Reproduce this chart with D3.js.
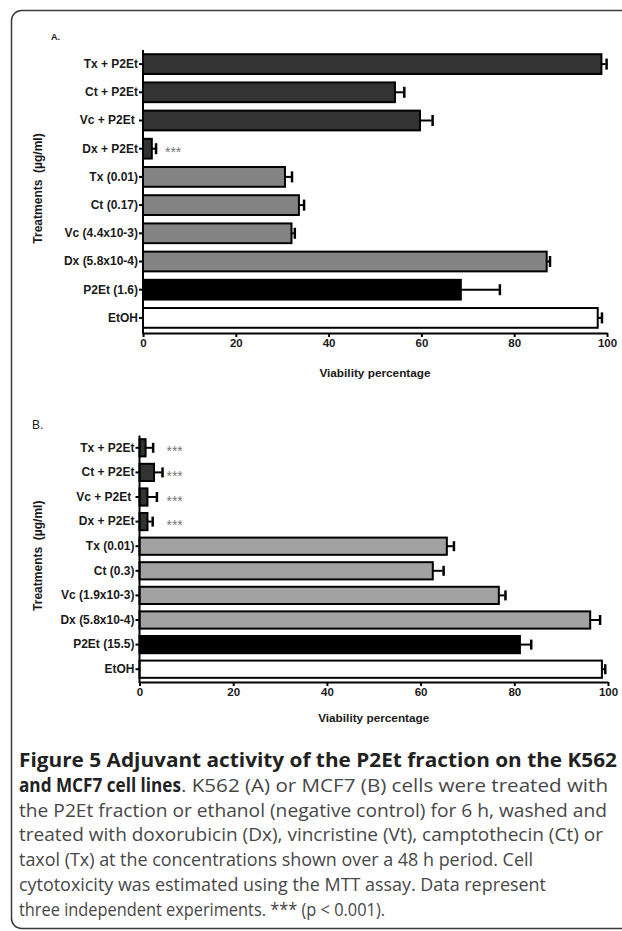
<!DOCTYPE html>
<html>
<head>
<meta charset="utf-8">
<script src="https://cdn.jsdelivr.net/npm/d3@7"></script>
<style>
  body { margin: 0; background: #fff; overflow: hidden; }
  svg { display: block; }
  text { white-space: pre; }
</style>
</head>
<body>
<svg id="fig" width="622" height="931"></svg>
<script>
// Panel A: K562
var categoriesA = ['Tx + P2Et', 'Ct + P2Et', 'Vc + P2Et ', 'Dx + P2Et', 'Tx (0.01)', 'Ct (0.17)',
  'Vc (4.4x10-3)', 'Dx (5.8x10-4)', 'P2Et (1.6)', 'EtOH'];
var viabilityA = [98.8, 54.3, 59.7, 1.9, 30.6, 33.6, 32.0, 87.0, 68.5, 98.0];
var errorA = [0.9, 1.8, 2.5, 0.7, 1.3, 0.9, 0.5, 0.5, 8.2, 0.7];
var signifA = ['', '', '', '***', '', '', '', '', '', ''];

// Panel B: MCF7
var categoriesB = ['Tx + P2Et', 'Ct + P2Et', 'Vc + P2Et ', 'Dx + P2Et', 'Tx (0.01)', 'Ct (0.3)',
  'Vc (1.9x10-3)', 'Dx (5.8x10-4)', 'P2Et (15.5)', 'EtOH'];
var viabilityB = [1.3, 3.1, 1.7, 1.7, 65.6, 62.6, 76.7, 96.2, 81.2, 98.7];
var errorB = [1.4, 1.6, 1.8, 0.9, 1.3, 2.1, 1.2, 1.9, 2.2, 0.5];
var signifB = ['***', '***', '***', '***', '', '', '', '', '', ''];

// treatment kind per row (same order in both panels)
var kinds = ['combo', 'combo', 'combo', 'combo', 'drug', 'drug', 'drug', 'drug', 'extract', 'vehicle'];
var xTicks = [0, 20, 40, 60, 80, 100];

var captionLines = [
  [{b: true, t: 'Figure 5 Adjuvant activity of the P2Et fraction on the K562'}],
  [{b: true, t: 'and MCF7 cell lines'}, {b: false, t: '. K562 (A) or MCF7 (B) cells were treated with'}],
  [{b: false, t: 'the P2Et fraction or ethanol (negative control) for 6 h, washed and'}],
  [{b: false, t: 'treated with doxorubicin (Dx), vincristine (Vt), camptothecin (Ct) or'}],
  [{b: false, t: 'taxol (Tx) at the concentrations shown over a 48 h period. Cell'}],
  [{b: false, t: 'cytotoxicity was estimated using the MTT assay. Data represent'}],
  [{b: false, t: 'three independent experiments. *** (p < 0.001).'}]
];
// right end of every caption piece, as set in the page
var captionEnds = [[617], [181, 608], [607], [603], [533], [546], [385]];

var svg = d3.select('#fig');
var FONT = '"Liberation Sans", Arial, sans-serif';

// frame round the figure, open past the right edge
var fr = d3.path();
fr.moveTo(700, 10.5);
fr.lineTo(21.5, 10.5);
fr.arcTo(11.5, 10.5, 11.5, 20.5, 10);
fr.lineTo(11.5, 918.5);
fr.arcTo(11.5, 928.5, 21.5, 928.5, 10);
fr.lineTo(700, 928.5);
svg.append('path')
  .attr('d', fr.toString())
  .attr('fill', 'none')
  .attr('stroke', '#3a3a3a')
  .attr('stroke-width', 1.5);

function drawPanel(cfg) {
  var x = d3.scaleLinear().domain([0, 100]).range([cfg.left, cfg.right]);
  var y = d3.scaleBand().domain(cfg.categories).range([cfg.top, cfg.bottom]).paddingInner(0.3).paddingOuter(0.15);
  var fills = {combo: '#333333', drug: cfg.gray, extract: '#000000', vehicle: '#ffffff'};
  var rows = cfg.categories.map(function(c, i) {
    return {name: c, v: cfg.values[i], e: cfg.errors[i], s: cfg.signif[i], kind: kinds[i]};});
  function mid(d) {return y(d.name) + y.bandwidth() / 2;}

  var g = svg.append('g');

  // bars
  g.selectAll('.bar').data(rows).enter().append('rect')
    .attr('class', 'bar')
    .attr('x', x(0))
    .attr('y', function(d) {return y(d.name);})
    .attr('width', function(d) {return x(d.v) - x(0);})
    .attr('height', y.bandwidth())
    .attr('fill', function(d) {return fills[d.kind];})
    .attr('stroke', '#000')
    .attr('stroke-width', 2);

  // error bars (upper side only)
  var eb = g.selectAll('.err').data(rows).enter().append('g').attr('class', 'err');
  eb.append('line')
    .attr('x1', function(d) {return x(d.v);})
    .attr('x2', function(d) {return x(d.v + d.e);})
    .attr('y1', mid).attr('y2', mid)
    .attr('stroke', '#000').attr('stroke-width', 2);
  eb.append('line')
    .attr('x1', function(d) {return x(d.v + d.e) + 1;})
    .attr('x2', function(d) {return x(d.v + d.e) + 1;})
    .attr('y1', function(d) {return mid(d) - cfg.cap;})
    .attr('y2', function(d) {return mid(d) + cfg.cap;})
    .attr('stroke', '#000').attr('stroke-width', 2.5);

  // significance marks
  g.selectAll('.sig').data(rows.filter(function(d) {return d.s;})).enter().append('text')
    .attr('class', 'sig')
    .attr('x', x(cfg.starAt))
    .attr('y', function(d) {return mid(d) + 8.5;})
    .attr('text-anchor', 'middle')
    .style('font-family', FONT).style('font-size', '14px')
    .attr('fill', '#777')
    .text(function(d) {return d.s;});

  // axes
  var yAxis = g.append('g')
    .attr('transform', 'translate(' + x(0) + ',0)')
    .call(d3.axisLeft(y).tickSize(4).tickSizeOuter(0).tickPadding(1));
  yAxis.select('.domain').attr('d', 'M0,' + cfg.top + 'V' + (cfg.axisY + 1));
  var xAxis = g.append('g')
    .attr('transform', 'translate(0,' + cfg.axisY + ')')
    .call(d3.axisBottom(x).tickValues(xTicks).tickSize(4).tickSizeOuter(0).tickPadding(2));
  [yAxis, xAxis].forEach(function(a) {
    a.selectAll('.domain, .tick line').attr('stroke', '#000').attr('stroke-width', 2);
    a.selectAll('text')
      .style('font-family', FONT).style('font-weight', 'bold')
      .attr('fill', '#1a1a1a');
  });
  yAxis.selectAll('text').style('font-size', '12px');
  xAxis.selectAll('text').style('font-size', '11.5px');

  // axis titles
  g.append('text')
    .attr('transform', 'translate(' + cfg.titleX + ',' + ((cfg.top + cfg.axisY) / 2 - 3) + ')rotate(-90)')
    .attr('text-anchor', 'middle')
    .style('font-family', FONT).style('font-size', '12px').style('font-weight', 'bold')
    .attr('fill', '#1a1a1a')
    .text('Treatments  (\u00b5g/ml)');
  g.append('text')
    .attr('x', (cfg.left + cfg.right) / 2)
    .attr('y', cfg.xTitleY)
    .attr('text-anchor', 'middle')
    .style('font-family', FONT).style('font-size', '11.8px').style('font-weight', 'bold')
    .attr('fill', '#1a1a1a')
    .text('Viability percentage');

  // panel letter
  g.append('text')
    .attr('x', cfg.letterX).attr('y', cfg.letterY)
    .style('font-family', FONT).style('font-size', cfg.letterSize)
    .style('font-weight', cfg.letterWeight)
    .attr('fill', '#1a1a1a')
    .text(cfg.letter);
}

drawPanel({
  categories: categoriesA, values: viabilityA, errors: errorA, signif: signifA,
  left: 143, right: 607, top: 50, bottom: 332, axisY: 333,
  gray: '#848484', cap: 5.5, starAt: 6.5,
  titleX: 42, xTitleY: 377,
  letter: 'A.', letterX: 51, letterY: 40, letterSize: '9px', letterWeight: 'bold'
});

drawPanel({
  categories: categoriesB, values: viabilityB, errors: errorB, signif: signifB,
  left: 139.5, right: 608, top: 435.5, bottom: 681.5, axisY: 682,
  gray: '#a2a2a2', cap: 5, starAt: 7.5,
  titleX: 42, xTitleY: 722,
  letter: 'B.', letterX: 32, letterY: 429, letterSize: '12px', letterWeight: 'normal'
});

// caption, each piece stretched to the width it has in the page
captionLines.forEach(function(line, i) {
  var x0 = 19;
  line.forEach(function(part, j) {
    var x1 = captionEnds[i][j];
    svg.append('text')
      .attr('x', x0).attr('y', 767 + i * 24.8)
      .attr('textLength', x1 - x0)
      .attr('lengthAdjust', 'spacingAndGlyphs')
      .style('font-family', '"Open Sans", "Noto Sans", sans-serif')
      .style('font-size', '19px')
      .style('font-weight', part.b ? 'bold' : 'normal')
      .attr('fill', part.b ? '#222' : '#474747')
      .text(part.t);
    x0 = x1;
  });
});
</script>
</body>
</html>
